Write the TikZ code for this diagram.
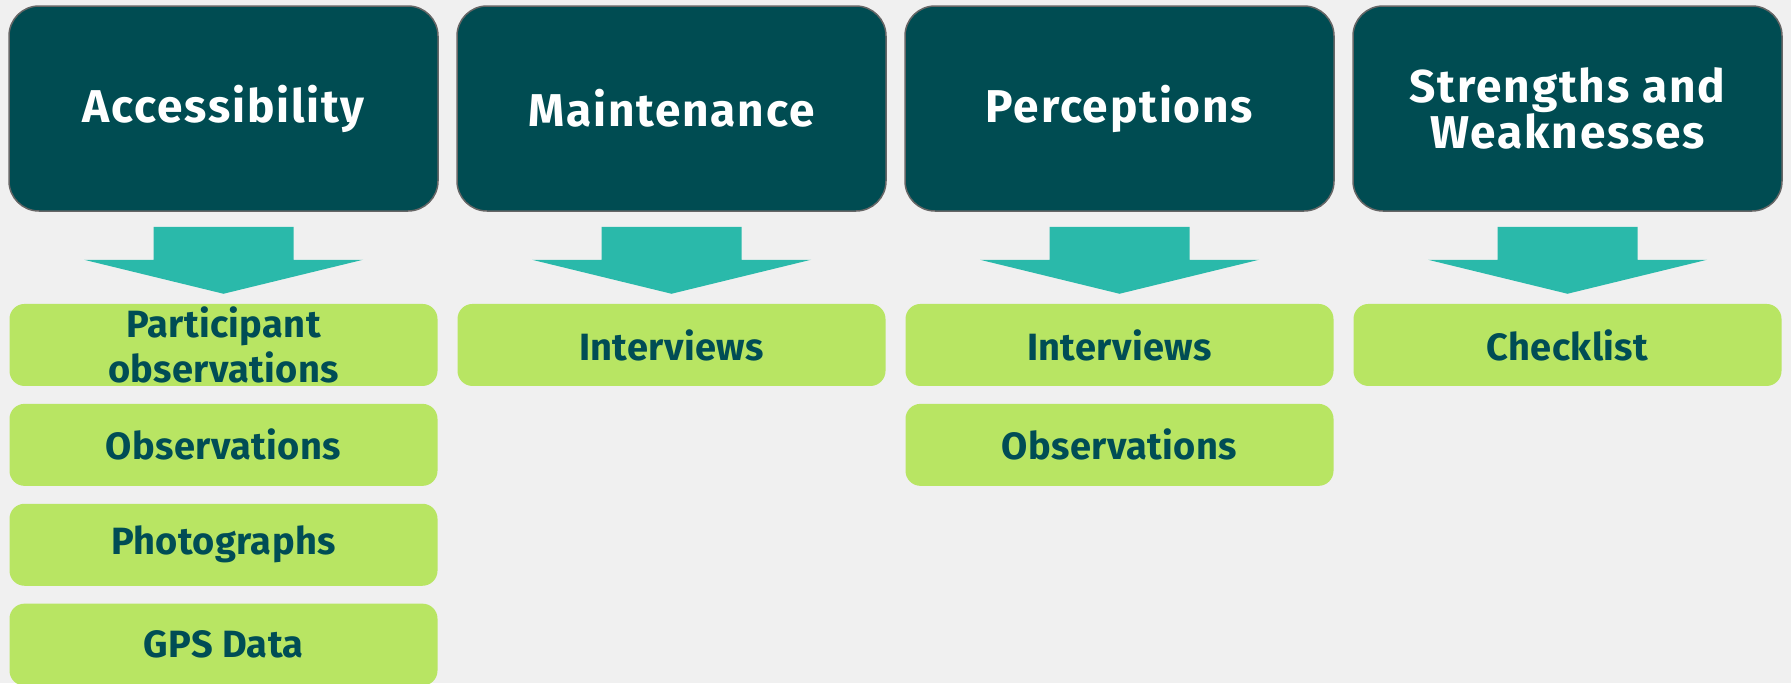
\documentclass[tikz,border=0pt]{standalone}
\usepackage{fontspec}
\setmainfont{Fira Sans}
\usetikzlibrary{positioning,calc}
\definecolor{topteal}{HTML}{004C52}
\definecolor{arrowteal}{HTML}{2AB9AA}
\definecolor{methodgreen}{HTML}{B8E563}
\definecolor{methodtext}{HTML}{004D55}
\definecolor{bggray}{HTML}{F0F0F0}
\tikzset{
	topic/.style={draw=gray!80!black, line width=1.5pt, fill=topteal, text=white, rounded corners=30pt,
		minimum width=429pt, minimum height=205pt, align=center, inner sep=0pt,
		font=\fontsize{46}{46}\selectfont\bfseries\addfontfeatures{LetterSpace=4}},
	method/.style={fill=methodgreen, text=methodtext, rounded corners=15pt,
		minimum width=428pt, minimum height=82pt, align=center, inner sep=0pt,
		font=\fontsize{38}{45}\selectfont\bfseries\addfontfeatures{LetterSpace=1}},
	downarrow/.style={fill=arrowteal}
}

\begin{document}
\begin{tikzpicture}[x=1pt,y=1pt]
	\useasboundingbox (0,0) rectangle (1791,-683);
	\fill[bggray] (0,0) rectangle (1791,-683);
	% topics with their arrows
	\foreach \name/\txt [count=\i from 0] in {acc/Accessibility, main/Maintenance, perc/Perceptions, sw/{Strengths and\\Weaknesses}}
	{
	\node[topic] (\name) at (223.5+448*\i, -108.5) {\txt};
	\fill[downarrow] ($(\name.south)+(-70,-15)$) -- ($(\name.south)+(70,-15)$) -- ($(\name.south)+(70,-48)$)
		-- ($(\name.south)+(139.5,-48)$) -- ($(\name.south)+(0,-82)$) -- ($(\name.south)+(-139.5,-48)$)
		-- ($(\name.south)+(-70,-48)$) -- cycle;
	}
	% methods
	\node[method, below=92pt of acc] (acc1) {Participant\\observations};
	\node[method, below=17.5pt of acc1] (acc2) {Observations};
	\node[method, below=17.5pt of acc2] (acc3) {Photographs};
	\node[method, below=17.5pt of acc3] (acc4) {GPS Data};
	\node[method, below=92pt of main] (main1) {Interviews};
	\node[method, below=92pt of perc] (perc1) {Interviews};
	\node[method, below=17.5pt of perc1] (perc2) {Observations};
	\node[method, below=92pt of sw] (sw1) {Checklist};
\end{tikzpicture}
\end{document}
